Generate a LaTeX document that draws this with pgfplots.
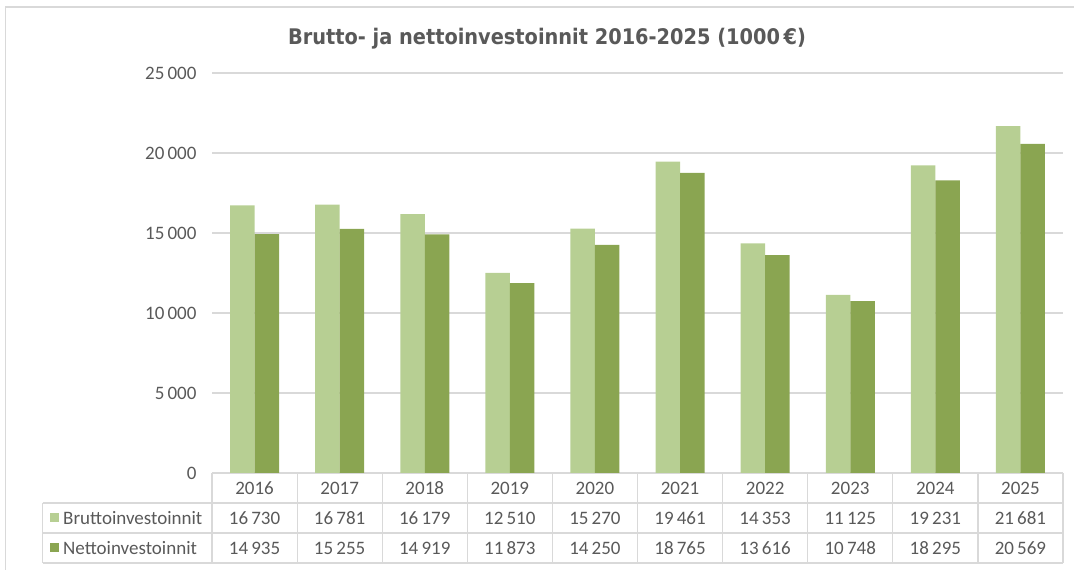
\documentclass[border=0pt]{standalone}
\usepackage{fontspec}
\setmainfont{Carlito}
\newfontfamily\titlefont{DejaVu Sans}[FakeStretch=0.9]
\usepackage{pgfplots}
\pgfplotsset{compat=1.18}
\usepackage{pgfplotstable}
\usetikzlibrary{calc}

\definecolor{lightg}{HTML}{B7CF93}
\definecolor{darkg}{HTML}{8AA551}
\definecolor{textgray}{HTML}{595959}
\definecolor{gridgray}{HTML}{D9D9D9}

% idx year brutto netto
\pgfplotstableread{
idx year brutto netto
0 2016 16730 14935
1 2017 16781 15255
2 2018 16179 14919
3 2019 12510 11873
4 2020 15270 14250
5 2021 19461 18765
6 2022 14353 13616
7 2023 11125 10748
8 2024 19231 18295
9 2025 21681 20569
}\invdata

\begin{document}
\begin{tikzpicture}[x=1pt,y=1pt]
\useasboundingbox (0,0) rectangle (1074,570);
\draw[gridgray, line width=1.3pt] (5.5,0) -- (5.5,563) -- (1074,563);

\begin{axis}[
    at={(212pt,97pt)}, anchor=south west,
    scale only axis,
    width=851pt, height=400pt,
    xmin=-0.5, xmax=9.5,
    ymin=0, ymax=25000,
    clip=false,
    axis line style={draw=none},
    major tick length=0pt,
    xtick=\empty,
    ytick={0,5000,10000,15000,20000,25000},
    scaled y ticks=false,
    ymajorgrids,
    grid style={draw=gridgray, line width=1.2pt},
    /pgf/number format/assume math mode=true,
    /pgf/number format/1000 sep={\,},
    yticklabel style={font=\fontsize{19}{21}\selectfont, text=textgray, xshift=-12pt},
    every node near coord/.append style={font=\fontsize{19}{21}\selectfont, text=textgray, anchor=center},
]

\addplot[ybar, bar width=24.5pt, bar shift=-12.25pt, fill=lightg, draw=none]
  table[x=idx, y=brutto]{\invdata};
\addplot[ybar, bar width=24.5pt, bar shift=12.25pt, fill=darkg, draw=none]
  table[x=idx, y=netto]{\invdata};

% data table below the plot
\addplot[draw=none, mark=none, nodes near coords, point meta=explicit symbolic]
  table[x=idx, y expr=-937.5, meta=year]{\invdata};
\addplot[draw=none, mark=none, point meta=explicit,
  nodes near coords={\pgfmathprintnumber[fixed, precision=0, 1000 sep={\,}]{\pgfplotspointmeta}}]
  table[x=idx, y expr=-2812.5, meta=brutto]{\invdata};
\addplot[draw=none, mark=none, point meta=explicit,
  nodes near coords={\pgfmathprintnumber[fixed, precision=0, 1000 sep={\,}]{\pgfplotspointmeta}}]
  table[x=idx, y expr=-4687.5, meta=netto]{\invdata};

\pgfplotsinvokeforeach{-0.5,0.5,1.5,2.5,3.5,4.5,5.5,6.5,7.5,8.5,9.5}{
  \draw[gridgray, line width=1.2pt] (axis cs:#1,0) -- (axis cs:#1,-5625);
}
\pgfplotsinvokeforeach{-1875,-3750,-5625}{
  \draw[gridgray, line width=1.2pt] (axis cs:-2.489,#1) -- (axis cs:9.5,#1);
}
\draw[gridgray, line width=1.2pt] (axis cs:-2.489,-1875) -- (axis cs:-2.489,-5625);

\fill[lightg] ($(axis cs:-0.5,-2812.5)+(-162pt,-4.5pt)$) rectangle ++(9pt,9pt);
\fill[darkg] ($(axis cs:-0.5,-4687.5)+(-162pt,-4.5pt)$) rectangle ++(9pt,9pt);
\node[anchor=west, inner sep=0pt, font=\fontsize{19}{21}\selectfont, text=textgray]
  at ($(axis cs:-0.5,-2812.5)+(-149pt,0pt)$) {Bruttoinvestoinnit};
\node[anchor=west, inner sep=0pt, font=\fontsize{19}{21}\selectfont, text=textgray]
  at ($(axis cs:-0.5,-4687.5)+(-149pt,0pt)$) {Nettoinvestoinnit};
\end{axis}

\node[font=\titlefont\bfseries\fontsize{21.5}{24}\selectfont, text=textgray] at (547,531)
  {Brutto- ja nettoinvestoinnit 2016-2025 (1000\,€)};
\end{tikzpicture}
\end{document}
